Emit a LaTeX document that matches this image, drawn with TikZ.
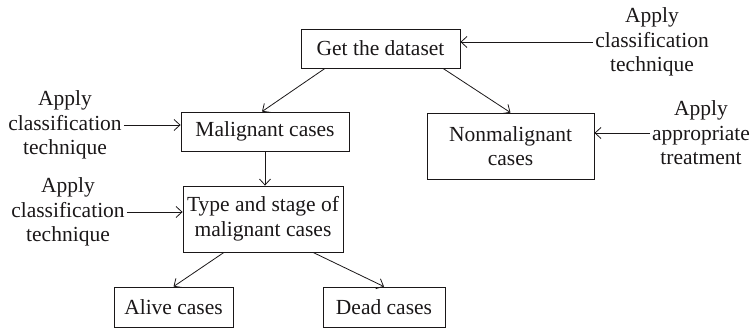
\documentclass[tikz,border=0pt]{standalone}
\usepackage{fontspec}
\setmainfont{Liberation Serif}
\usepackage{tikz}
\usetikzlibrary{arrows.meta}
\definecolor{flowink}{HTML}{1A1718}

\begin{document}
\begin{tikzpicture}[x=1pt,y=-1pt,font=\fontsize{21.5}{24.5}\selectfont,
  stagebox/.style={draw=flowink,line width=0.8pt,align=center,inner sep=2pt,text=flowink},
  note/.style={align=center,inner sep=2pt,text=flowink},
  flow/.style={draw=flowink,line width=0.8pt,-{Straight Barb[length=6pt,width=11pt]}}]
\useasboundingbox (0,0) rectangle (751,328);
\foreach \name/\x/\y/\w/\h/\txt in {
  data/380.5/48.5/159/39/{Get the dataset},
  malig/265/131.5/168/39/{Malignant cases},
  nonmal/510.5/146/167/66/{Nonmalignant\\cases},
  stage/263/219/160/66/{Type and stage of\\malignant cases},
  alive/173.5/307/119/40/{Alive cases},
  dead/384/307/122/40/{Dead cases}} {
  \node[stagebox,minimum width=\w,minimum height=\h] (\name) at (\x,\y) {\txt};
}
\node[note] (clsA) at (652,42) {Apply\\classification\\technique};
\node[note] (treat) at (701,133) {Apply\\appropriate\\treatment};
\node[note] (clsB) at (65,125) {Apply\\classification\\technique};
\node[note] (clsC) at (68,212) {Apply\\classification\\technique};
% side inputs
\draw[flow] (clsA.west) -- (clsA.west -| data.east);
\draw[flow] (treat.west) -- (treat.west -| nonmal.east);
\draw[flow] (clsB.east) -- (clsB.east -| malig.west);
\draw[flow] (clsC.east) -- (clsC.east -| stage.west);
% tree
\draw[flow] ([xshift=-55.5pt]data.south) -- ([xshift=-3pt]malig.north);
\draw[flow] ([xshift=62.5pt]data.south) -- (nonmal.north);
\draw[flow] (malig.south) -- (malig.south |- stage.north);
\draw[flow] ([xshift=-39pt]stage.south) -- (alive.north);
\draw[flow] ([xshift=50pt]stage.south) -- (dead.north);
\end{tikzpicture}
\end{document}
